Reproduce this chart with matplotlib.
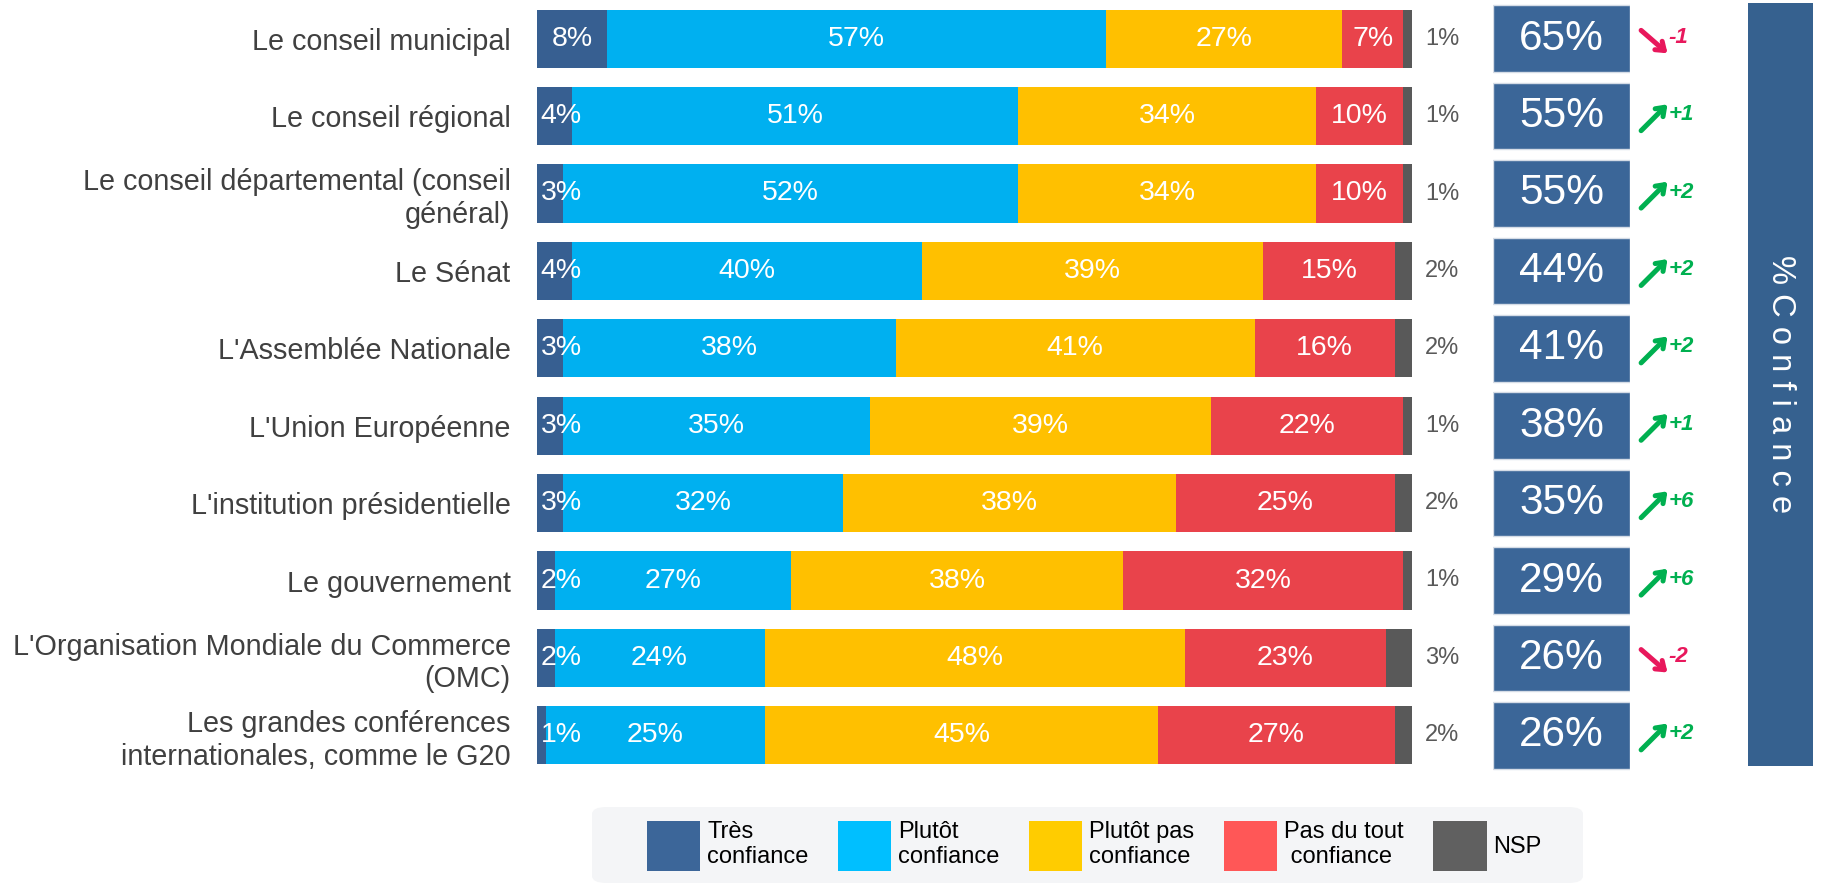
import matplotlib
matplotlib.use("Agg")
import matplotlib.pyplot as plt
from matplotlib.patches import Patch, FancyBboxPatch
from matplotlib import transforms

plt.rcParams['font.family'] = ['Liberation Sans', 'DejaVu Sans']

categories = [
    "Le conseil municipal",
    "Le conseil régional",
    "Le conseil départemental (conseil\ngénéral)",
    "Le Sénat",
    "L'Assemblée Nationale",
    "L'Union Européenne",
    "L'institution présidentielle",
    "Le gouvernement",
    "L'Organisation Mondiale du Commerce\n(OMC)",
    "Les grandes conférences\ninternationales, comme le G20",
]
tres_confiance = [8, 4, 3, 4, 3, 3, 3, 2, 2, 1]
plutot_confiance = [57, 51, 52, 40, 38, 35, 32, 27, 24, 25]
plutot_pas = [27, 34, 34, 39, 41, 39, 38, 38, 48, 45]
pas_du_tout = [7, 10, 10, 15, 16, 22, 25, 32, 23, 27]
nsp = [1, 1, 1, 2, 2, 1, 2, 1, 3, 2]
total_confiance = [65, 55, 55, 44, 41, 38, 35, 29, 26, 26]
evolution = [-1, 1, 2, 2, 2, 1, 6, 6, -2, 2]

series_names = ["Très\nconfiance", "Plutôt\nconfiance", "Plutôt pas\nconfiance",
                "Pas du tout\n confiance", "NSP"]
bar_colors = ["#375F91", "#00B0F0", "#FFC000", "#E9434B", "#595959"]
legend_colors = ["#3C6699", "#00BFFF", "#FFCC00", "#FF5757", "#606060"]

W, H = 1821, 886
fig = plt.figure(figsize=(W / 100, H / 100), dpi=100)

row_h = 77.4
n = len(categories)
ax_h = row_h * n
ax = fig.add_axes([537 / W, 1 - ax_h / H, 875 / W, ax_h / H])
ys = list(range(n))
series = [tres_confiance, plutot_confiance, plutot_pas, pas_du_tout, nsp]
left = [0] * n
for si, (vals, col) in enumerate(zip(series, bar_colors)):
    ax.barh(ys, vals, left=left, height=0.75, color=col, edgecolor='none')
    for i, v in enumerate(vals):
        if si == 4:
            ax.text(101.5, i, f"{v}%", ha='left', va='center', fontsize=17,
                    color='#595959', clip_on=False)
        elif si == 0 and v < 5:
            ax.text(left[i] + 0.4, i, f"{v}%", ha='left', va='center', fontsize=20.5,
                    color='white')
        else:
            ax.text(left[i] + v / 2, i, f"{v}%", ha='center', va='center', fontsize=20.5,
                    color='white')
    left = [l + v for l, v in zip(left, vals)]

ax.set_xlim(0, 100)
ax.set_ylim(n - 0.5, -0.5)
ax.set_yticks(ys)
ax.set_yticklabels(categories, fontsize=20.7, color='#404040')
ax.tick_params(axis='y', length=0, pad=19)
ax.set_xticks([])
for s in ax.spines.values():
    s.set_visible(False)

# confidence boxes
bx = fig.add_axes([1493 / W, 1 - ax_h / H, 137 / W, ax_h / H])
bx.barh(ys, [1] * n, height=0.86, color='#3B6698', edgecolor='#D5DCE6', linewidth=1)
for i, v in enumerate(total_confiance):
    bx.text(0.5, i, f"{v}%", ha='center', va='center', fontsize=30.5, color='white')

blend = transforms.blended_transform_factory(bx.transAxes, bx.transData)
for i, d in enumerate(evolution):
    col = '#00B050' if d > 0 else '#E8185C'
    sign = f"+{d}" if d > 0 else f"{d}"
    if d > 0:
        tail, head = (8, -10.5), (27, 8.5)
    else:
        tail, head = (8, 6), (27, -10.5)
    head_tr = transforms.offset_copy(blend, fig=fig, x=head[0], y=head[1], units='points')
    bx.annotate('', xy=(1, i), xycoords=head_tr,
                xytext=(tail[0] - head[0], tail[1] - head[1]), textcoords='offset points',
                arrowprops=dict(arrowstyle='->,head_length=0.55,head_width=0.4', lw=3.6,
                                color=col, shrinkA=0, shrinkB=0),
                annotation_clip=False)
    bx.annotate(sign, xy=(1, i), xycoords=('axes fraction', 'data'),
                xytext=(28, 1), textcoords='offset points', ha='left', va='center',
                fontsize=16, fontweight='bold', fontstyle='italic', color=col,
                annotation_clip=False)
bx.set_xlim(0, 1)
bx.set_ylim(n - 0.5, -0.5)
bx.axis('off')

# right panel
px = fig.add_axes([1748 / W, 1 - 766 / H, 65 / W, 763 / H])
px.set_facecolor('#36618F')
px.set_xticks([])
px.set_yticks([])
for s in px.spines.values():
    s.set_visible(False)
px.text(0.5, 0.5, "% C o n f i a n c e", rotation=-90, ha='center', va='center',
        fontsize=23.5, color='white', transform=px.transAxes)

# legend background
bg = FancyBboxPatch((592 / W, 3 / H), 991 / W, 76 / H,
                    boxstyle="round,pad=0,rounding_size=0.008",
                    transform=fig.transFigure, facecolor='#F4F5F7', edgecolor='none',
                    zorder=0)
fig.patches.append(bg)

handles = [Patch(facecolor=c, edgecolor='none') for c in legend_colors]
fig.legend(handles, series_names, loc='center', bbox_to_anchor=(0.601, 0.045),
           ncol=5, frameon=False, fontsize=17, handlelength=2.25, handleheight=2.9,
           handletextpad=0.3, columnspacing=1.25)

fig.savefig("out.png", dpi=100)
